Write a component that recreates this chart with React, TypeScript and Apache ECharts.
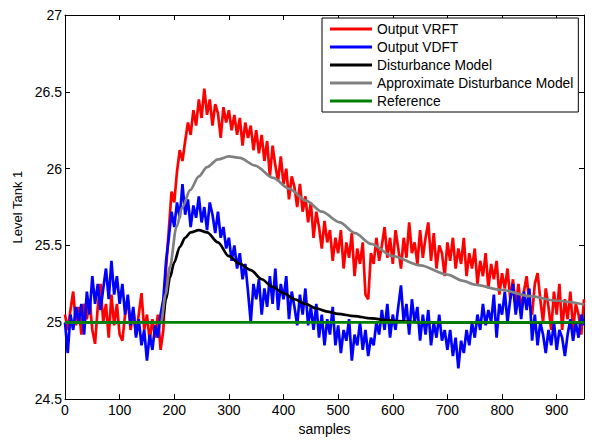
import React, { useEffect, useRef } from "react";
import * as echarts from "echarts";

// sample spacing of the noisy output records
const SAMPLE_STEP = 5;

// Output VRFT (red), one value every 5 samples from 0 to 950
const vrftValues = [
  25.05, 24.95, 25.08, 25.2, 24.98, 25.1, 24.92, 25.12, 25.02, 25.15,
  24.95, 24.86, 25.1, 25.25, 25.0, 25.12, 24.9, 25.18, 24.98, 25.12,
  24.92, 24.88, 25.05, 25.15, 24.95, 25.08, 24.92, 25.05, 25.19, 24.95,
  25.05, 24.88, 25.02, 24.9, 25.05, 24.82, 24.95, 25.35, 25.6, 25.85,
  25.78, 25.98, 26.12, 26.05, 26.18, 26.3, 26.22, 26.38, 26.28, 26.45,
  26.33, 26.52, 26.35, 26.45, 26.28, 26.42, 26.36, 26.2, 26.4, 26.3,
  26.38, 26.25, 26.35, 26.22, 26.33, 26.15, 26.3, 26.2, 26.28, 26.12,
  26.25, 26.1, 26.22, 26.05, 26.18, 25.95, 26.15, 26.02, 25.92, 26.08,
  25.9, 26.0, 25.8, 25.95, 25.88, 25.75, 25.9, 25.72, 25.82, 25.65,
  25.78, 25.55, 25.72, 25.62, 25.48, 25.66, 25.52, 25.6, 25.4, 25.55,
  25.45, 25.6, 25.35, 25.52, 25.42, 25.58, 25.3, 25.48, 25.38, 25.52,
  25.18, 25.15, 25.45, 25.38, 25.55, 25.4, 25.5, 25.62, 25.42, 25.55,
  25.38, 25.6, 25.48, 25.35, 25.55, 25.42, 25.65, 25.45, 25.52, 25.38,
  25.6, 25.42, 25.55, 25.65, 25.4, 25.58, 25.35, 25.5, 25.45, 25.3,
  25.52, 25.4, 25.55, 25.35, 25.48, 25.38, 25.55, 25.3, 25.45, 25.35,
  25.48, 25.25, 25.4, 25.3, 25.45, 25.22, 25.38, 25.28, 25.4, 25.18,
  25.32, 25.22, 25.35, 25.15, 25.28, 25.1, 25.25, 25.08, 25.2, 25.3,
  25.12, 25.05, 25.25, 25.32, 25.15, 25.0, 25.22, 25.1, 24.95, 25.2,
  25.05, 25.25, 24.95, 25.15, 25.02, 25.2, 24.95, 25.12, 25.05, 24.92,
  25.15,
];

// Output VDFT (blue), one value every 5 samples from 0 to 950
const vdftValues = [
  25.0, 24.8, 25.05, 24.95, 25.1, 25.0, 25.12, 24.92, 25.2, 25.05,
  25.3, 25.12, 25.25, 25.08, 25.22, 25.35, 25.15, 25.4, 25.18, 25.3,
  25.12, 25.25, 25.05, 25.18, 24.98, 25.1, 24.9, 25.02, 24.85, 24.95,
  24.75, 24.92, 24.82, 24.98, 24.9, 25.05, 25.15, 25.4, 25.55, 25.72,
  25.62, 25.78, 25.68, 25.9, 25.7, 25.8, 25.62, 25.76, 25.68, 25.82,
  25.65, 25.75, 25.6, 25.78, 25.7, 25.58, 25.72, 25.55, 25.62, 25.48,
  25.55, 25.4, 25.5, 25.35, 25.45, 25.28, 25.38, 25.2, 25.0, 25.25,
  25.15, 25.28, 25.05, 25.22, 25.1, 25.3, 25.12, 25.35, 25.08, 25.25,
  25.15, 25.3, 25.02, 25.2, 25.1, 24.98, 25.18, 25.05, 25.22, 24.98,
  25.1, 24.95, 25.12, 24.9, 25.05, 24.85, 25.02, 24.92, 25.1, 24.85,
  24.98, 24.8, 24.95, 24.88, 25.02, 24.75, 24.92, 24.85, 25.0, 24.82,
  24.95, 24.78, 24.9, 24.85, 25.0, 24.92, 25.08, 24.95, 25.12, 24.9,
  25.05, 24.95, 25.1, 25.24, 25.0, 25.12, 24.92, 25.15, 25.0, 25.1,
  24.88, 25.05, 24.92, 25.08, 24.85, 25.0, 24.9, 25.05, 24.88, 24.95,
  24.82, 24.95, 24.78, 24.9, 24.7, 24.88, 24.8, 24.95, 24.85, 25.0,
  24.9, 25.05, 24.95, 25.12, 24.98, 25.08, 25.0, 25.18, 24.9, 25.12,
  25.05, 25.2, 25.0, 25.15, 25.25, 25.05, 25.18, 25.02, 25.2, 25.08,
  25.22, 24.88, 25.05, 24.85, 25.0, 24.92, 24.8, 24.95, 24.85, 25.0,
  24.82, 24.95, 24.9, 24.78, 24.92, 25.02, 24.88, 25.0, 24.9, 25.05,
  24.98,
];

// Disturbance Model (black)
const disturbanceX = [0, 178, 185, 192, 200, 210, 220, 230, 245, 260, 280, 300, 320, 340, 360, 380, 400, 420, 440, 460, 480, 500, 530, 560, 600, 650, 950];
const disturbanceY = [25, 25, 25.15, 25.29, 25.39, 25.49, 25.55, 25.585, 25.6, 25.585, 25.52, 25.43, 25.38, 25.34, 25.28, 25.23, 25.19, 25.15, 25.12, 25.09, 25.07, 25.055, 25.04, 25.025, 25.01, 25.0, 25.0];

// Approximate Disturbance Model (gray)
const approxX = [0, 176, 184, 192, 204, 215, 229, 245, 260, 280, 300, 320, 348, 381, 410, 442, 470, 503, 531, 560, 600, 650, 700, 729, 750, 800, 851, 900, 950];
const approxY = [25, 25, 25.18, 25.36, 25.62, 25.75, 25.86, 25.95, 26.01, 26.06, 26.08, 26.07, 26.02, 25.94, 25.87, 25.79, 25.72, 25.65, 25.58, 25.51, 25.43, 25.37, 25.31, 25.27, 25.245, 25.21, 25.17, 25.14, 25.116];

// Reference (green)
const referenceX = [0, 950];
const referenceY = [25, 25];

const xTickInterval = 100;
const yTickInterval = 0.5;

const FONT = "'Liberation Sans', Arial, Helvetica, sans-serif";

export default function App() {
  const ref = useRef<HTMLDivElement>(null);

  useEffect(() => {
    if (!ref.current) return;
    const chart = echarts.init(ref.current, undefined, { renderer: "svg" });

    const noisy = (vals: number[]) => vals.map((v, i) => [i * SAMPLE_STEP, v]);
    const pairs = (xs: number[], ys: number[]) => xs.map((x, i) => [x, ys[i]]);

    const axisLineStyle = { color: "#000", width: 1 };
    const labelStyle = { color: "#000", fontSize: 14, fontFamily: FONT };

    const baseX = {
      type: "value" as const,
      min: 0,
      max: 950,
      interval: xTickInterval,
      axisLine: { show: true, onZero: false, lineStyle: axisLineStyle },
      axisTick: { show: true, inside: true, length: 5, lineStyle: axisLineStyle },
      splitLine: { show: false },
    };
    const baseY = {
      type: "value" as const,
      min: 24.5,
      max: 27,
      interval: yTickInterval,
      axisLine: { show: true, onZero: false, lineStyle: axisLineStyle },
      axisTick: { show: true, inside: true, length: 5, lineStyle: axisLineStyle },
      splitLine: { show: false },
    };

    const lineSeries = (name: string, color: string, data: number[][], width = 2.7) => ({
      name,
      type: "line" as const,
      data,
      showSymbol: false,
      symbol: "none",
      color,
      lineStyle: { color, width },
      emphasis: { disabled: true },
    });

    chart.setOption({
      animation: false,
      textStyle: { fontFamily: FONT },
      grid: { left: 65, right: 8, top: 15, bottom: 38, containLabel: false },
      xAxis: [
        {
          ...baseX,
          position: "bottom",
          name: "samples",
          nameLocation: "middle",
          nameGap: 20,
          nameTextStyle: { color: "#000", fontSize: 14, fontFamily: FONT },
          axisLabel: { ...labelStyle, margin: 4, showMaxLabel: false },
        },
        {
          ...baseX,
          position: "top",
          axisLabel: { show: false },
        },
      ],
      yAxis: [
        {
          ...baseY,
          position: "left",
          name: "Level Tank 1",
          nameLocation: "middle",
          nameGap: 40,
          nameTextStyle: { color: "#000", fontSize: 13, fontFamily: FONT },
          axisLabel: { ...labelStyle, margin: 3 },
        },
        {
          ...baseY,
          position: "right",
          axisLabel: { show: false },
        },
      ],
      legend: {
        orient: "vertical",
        left: 322,
        top: 18,
        icon: "rect",
        itemWidth: 42,
        itemHeight: 3,
        itemGap: 4,
        padding: [4, 5, 4, 8],
        borderColor: "#000",
        borderWidth: 1,
        backgroundColor: "#fff",
        textStyle: { color: "#000", fontSize: 13.8, lineHeight: 13, fontFamily: FONT },
        data: ["Output VRFT", "Output VDFT", "Disturbance Model", "Approximate Disturbance Model", "Reference"],
      },
      series: [
        lineSeries("Output VRFT", "#ff0000", noisy(vrftValues)),
        lineSeries("Output VDFT", "#0000ff", noisy(vdftValues)),
        lineSeries("Disturbance Model", "#000000", pairs(disturbanceX, disturbanceY)),
        lineSeries("Approximate Disturbance Model", "#808080", pairs(approxX, approxY)),
        lineSeries("Reference", "#008000", pairs(referenceX, referenceY)),
      ].map((s, i) => (i >= 2 && i <= 3 ? { ...s, smooth: 0.3, smoothMonotone: "x" } : s)),
    });

    return () => chart.dispose();
  }, []);

  return (
    <div
      ref={ref}
      style={{ position: "fixed", left: 0, top: 0, width: 592, height: 441, background: "#fff" }}
    />
  );
}
